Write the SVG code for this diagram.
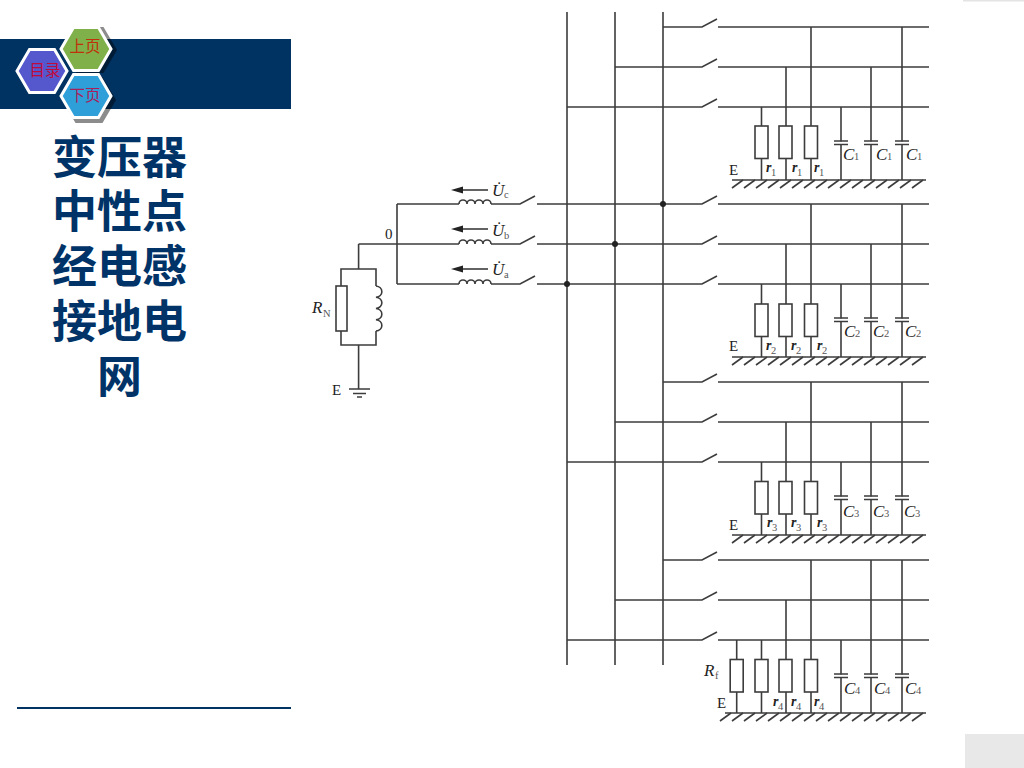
<svg xmlns="http://www.w3.org/2000/svg" width="1024" height="768" viewBox="0 0 1024 768">
<style>
.w{fill:none;stroke:#3c3c3c;stroke-width:1.6}
.box{fill:#fff;stroke:#3c3c3c;stroke-width:1.6}
.t{font-family:"Liberation Serif",serif;fill:#222}
.i{font-style:italic}
.r{font-size:14px;font-weight:700}
.c{font-size:17px}
.s{font-size:10.500px;fill:#555;font-style:normal}
.e{font-size:15px}
.ti{font-family:"Noto Sans CJK SC",sans-serif;font-size:45px;font-weight:700;fill:#003468;text-anchor:middle}
.nav{font-family:"Noto Sans CJK SC",sans-serif;font-size:15.500px;text-anchor:middle}
.hx{stroke:#fff;stroke-width:3}
.sh{fill:#000;fill-opacity:.45}
</style>
<defs>
<polygon id="hex" points="-25,0 -12.5,-21.5 12.5,-21.5 25,0 12.5,21.5 -12.5,21.5"/>
<polygon id="hexo" points="-27,0 -13.5,-23 13.5,-23 27,0 13.5,23 -13.5,23"/>
<path id="ind" class="w" d="M0 0a4 4 0 0 1 8 0a4 4 0 0 1 8 0a4 4 0 0 1 8 0a4 4 0 0 1 8 0"/>
<rect id="res" class="box" x="-6.500" y="0" width="13" height="32.500"/>
<path id="cap" class="w" d="M-7 0H7M-7 3.500H7"/>
<path id="hatch" class="w" d="M743 0l-11 8M755 0l-11 8M767 0l-11 8M779 0l-11 8M791 0l-11 8M803 0l-11 8M815 0l-11 8M827 0l-11 8M839 0l-11 8M851 0l-11 8M863 0l-11 8M875 0l-11 8M887 0l-11 8M899 0l-11 8M911 0l-11 8M923 0l-11 8"/>
</defs>
<rect width="1024" height="768" fill="#fff"/>
<g id="page-decor">
<rect x="0" y="39" width="291" height="70" fill="#003262"/>
<rect x="17" y="707" width="274" height="2" fill="#003262"/>
<rect x="963" y="0" width="61" height="1.500" fill="#e4e4e4"/>
<rect x="965" y="734" width="59" height="34" fill="#e8e8e8"/>
</g>
<g id="nav-shadows">
<use href="#hexo" x="90" y="50" class="sh"/>
<use href="#hexo" x="89" y="100" class="sh"/>
</g>
<g id="nav-toc"><use href="#hex" x="42" y="71" fill="#5558cc" class="hx"/><text class="nav" x="45" y="76" fill="#c00a3c">目录</text></g>
<g id="nav-prev"><use href="#hex" x="86" y="49" fill="#7fb04a" class="hx"/><text class="nav" x="85" y="52" fill="#c0300a">上页</text></g>
<g id="nav-next"><use href="#hex" x="86" y="96" fill="#2e9fd8" class="hx"/><text class="nav" x="85" y="101" fill="#a8205a">下页</text></g>
<g id="title">
<text class="ti" x="119.500" y="174">变压器</text>
<text class="ti" x="119.500" y="228">中性点</text>
<text class="ti" x="119.500" y="283">经电感</text>
<text class="ti" x="119.500" y="338">接地电</text>
<text class="ti" x="119.500" y="393">网</text>
</g>
<g id="connectors">
<path class="w" d="M567 12V665M615 12V665M663 12V665"/>
<path class="w" d="M397 204V284M358.600 244V269M358.600 345V389"/>
<path class="w" d="M397 204H459M491 204H520L535 196M537 204H702L717 196M718 204H929"/>
<path class="w" d="M358.600 244H459M491 244H520L535 236M537 244H702L717 236M718 244H929"/>
<path class="w" d="M397 284H459M491 284H520L535 276M537 284H702L717 276M718 284H929"/>
<path class="w" d="M663 27H702L717 19M718 27H929M615 67H702L717 59M718 67H929M567 107H702L717 99M718 107H929"/>
<path class="w" d="M663 382H702L717 374M718 382H929M615 422H702L717 414M718 422H929M567 462H702L717 454M718 462H929"/>
<path class="w" d="M663 560H702L717 552M718 560H929M615 600H702L717 592M718 600H929M567 640H702L717 632M718 640H929"/>
<circle cx="663" cy="204" r="3" fill="#222"/><circle cx="615" cy="244" r="3" fill="#222"/><circle cx="567" cy="284" r="3" fill="#222"/>
<path d="M488 190H460" class="w"/><path d="M451 190l12 -3.500v7z" fill="#222"/>
<path d="M488 229H460" class="w"/><path d="M451 229l12 -3.500v7z" fill="#222"/>
<path d="M488 269H460" class="w"/><path d="M451 269l12 -3.500v7z" fill="#222"/>
<use href="#ind" x="459" y="204"/><use href="#ind" x="459" y="244"/><use href="#ind" x="459" y="284"/>
</g>
<g id="source-labels">
<text class="t i c" x="492" y="196">U̇</text><text class="t s" x="504" y="198">c</text>
<text class="t i c" x="492" y="236">U̇</text><text class="t s" x="504" y="239">b</text>
<text class="t i c" x="492" y="275">U̇</text><text class="t s" x="504" y="278">a</text>
<text class="t e" x="385" y="239">0</text>
</g>
<g id="neutral-impedance">
<path class="w" d="M341 286V269H376V286M341 331V345H376V331"/>
<rect class="box" x="336" y="286" width="11" height="45"/>
<path class="w" d="M376 286a7 5.700 0 0 1 0 11.250a7 5.700 0 0 1 0 11.250a7 5.700 0 0 1 0 11.250a7 5.700 0 0 1 0 11.250"/>
<text class="t i c" x="312" y="313">R</text><text class="t s" x="323" y="317">N</text>
</g>
<g id="neutral-ground">
<path class="w" d="M349 389H370M353 393.500H366M357 397H362"/>
<text class="t e" x="332" y="395">E</text>
</g>
<g id="load-1">
<path class="w" d="M761.500 107V180M786 67V180M811 27V180M841 107V180M871 67V180M902 27V180M732 180H926"/>
<use href="#hatch" y="180"/>
<use href="#res" x="761.500" y="126"/><use href="#res" x="785.500" y="126"/><use href="#res" x="811" y="126"/>
<g fill="#fff"><rect x="835" y="141.500" width="12" height="3"/><rect x="865" y="141.500" width="12" height="3"/><rect x="896" y="141.500" width="12" height="3"/></g>
<use href="#cap" x="841" y="141"/><use href="#cap" x="871" y="141"/><use href="#cap" x="902" y="141"/>
<text class="t e" x="729" y="175">E</text>
<text class="t i r" x="766" y="172">r</text><text class="t s" x="771" y="176">1</text>
<text class="t i r" x="792" y="172">r</text><text class="t s" x="797" y="176">1</text>
<text class="t i r" x="814" y="172">r</text><text class="t s" x="819" y="176">1</text>
<text class="t i c" x="843" y="160">C</text><text class="t s" x="854" y="160">1</text>
<text class="t i c" x="876" y="160">C</text><text class="t s" x="887" y="160">1</text>
<text class="t i c" x="906" y="160">C</text><text class="t s" x="917" y="160">1</text>
</g>
<g id="load-2">
<path class="w" d="M761.500 284V357M786 244V357M811 204V357M841 284V357M871 244V357M902 204V357M732 357H926"/>
<use href="#hatch" y="357"/>
<use href="#res" x="761.500" y="304"/><use href="#res" x="785.500" y="304"/><use href="#res" x="811" y="304"/>
<g fill="#fff"><rect x="835" y="318.500" width="12" height="3"/><rect x="865" y="318.500" width="12" height="3"/><rect x="896" y="318.500" width="12" height="3"/></g>
<use href="#cap" x="841" y="318"/><use href="#cap" x="871" y="318"/><use href="#cap" x="902" y="318"/>
<text class="t e" x="729" y="351">E</text>
<text class="t i r" x="766" y="350">r</text><text class="t s" x="771" y="354">2</text>
<text class="t i r" x="791" y="350">r</text><text class="t s" x="796" y="354">2</text>
<text class="t i r" x="817" y="350">r</text><text class="t s" x="822" y="354">2</text>
<text class="t i c" x="844" y="337">C</text><text class="t s" x="855" y="337">2</text>
<text class="t i c" x="873" y="337">C</text><text class="t s" x="884" y="337">2</text>
<text class="t i c" x="905" y="337">C</text><text class="t s" x="916" y="337">2</text>
</g>
<g id="load-3">
<path class="w" d="M761.500 462V535M786 422V535M811 382V535M841 462V535M871 422V535M902 382V535M732 535H926"/>
<use href="#hatch" y="535"/>
<use href="#res" x="761.500" y="481.500"/><use href="#res" x="785.500" y="481.500"/><use href="#res" x="811" y="481.500"/>
<g fill="#fff"><rect x="835" y="496.500" width="12" height="3"/><rect x="865" y="496.500" width="12" height="3"/><rect x="896" y="496.500" width="12" height="3"/></g>
<use href="#cap" x="841" y="496"/><use href="#cap" x="871" y="496"/><use href="#cap" x="902" y="496"/>
<text class="t e" x="729" y="530">E</text>
<text class="t i r" x="767" y="527">r</text><text class="t s" x="772" y="531">3</text>
<text class="t i r" x="791" y="527">r</text><text class="t s" x="796" y="531">3</text>
<text class="t i r" x="817" y="527">r</text><text class="t s" x="822" y="531">3</text>
<text class="t i c" x="843" y="517">C</text><text class="t s" x="854" y="517">3</text>
<text class="t i c" x="873" y="517">C</text><text class="t s" x="884" y="517">3</text>
<text class="t i c" x="904" y="517">C</text><text class="t s" x="915" y="517">3</text>
</g>
<g id="load-4">
<path class="w" d="M736.700 640V713M761.500 640V713M786 600V713M811 560V713M841 640V713M871 560V713M902 560V713M725 713H926"/>
<use href="#hatch" y="713"/><path class="w" d="M731 713l-11 8"/>
<use href="#res" x="736.700" y="659.500"/><use href="#res" x="761.500" y="659.500"/><use href="#res" x="785.500" y="659.500"/><use href="#res" x="811" y="659.500"/>
<g fill="#fff"><rect x="835" y="674.500" width="12" height="3"/><rect x="865" y="674.500" width="12" height="3"/><rect x="896" y="674.500" width="12" height="3"/></g>
<use href="#cap" x="841" y="674"/><use href="#cap" x="871" y="674"/><use href="#cap" x="902" y="674"/>
<text class="t e" x="717" y="708">E</text>
<text class="t i c" x="704" y="676">R</text><text class="t s" x="715" y="679">f</text>
<text class="t i r" x="773" y="706">r</text><text class="t s" x="778" y="710">4</text>
<text class="t i r" x="791" y="706">r</text><text class="t s" x="796" y="710">4</text>
<text class="t i r" x="814" y="706">r</text><text class="t s" x="819" y="710">4</text>
<text class="t i c" x="844" y="694">C</text><text class="t s" x="855" y="694">4</text>
<text class="t i c" x="874" y="694">C</text><text class="t s" x="885" y="694">4</text>
<text class="t i c" x="905" y="694">C</text><text class="t s" x="916" y="694">4</text>
</g>
</svg>
